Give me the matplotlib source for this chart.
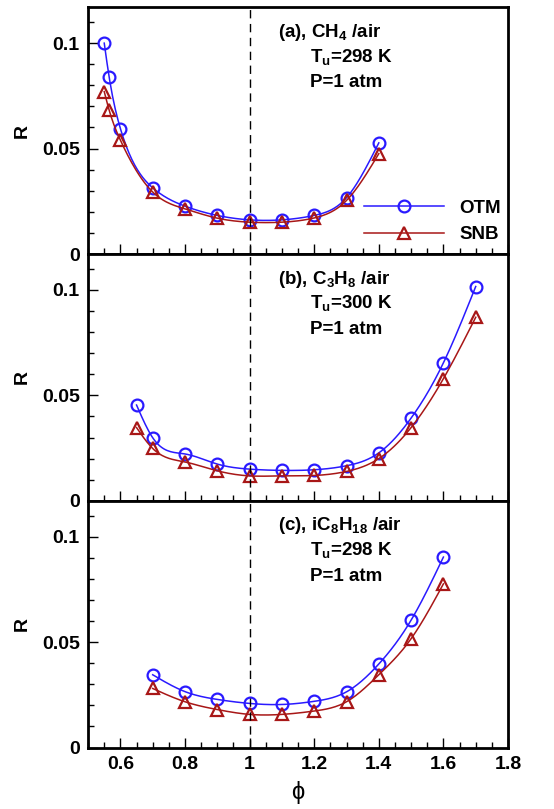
import numpy as np
import matplotlib
matplotlib.use("Agg")
import matplotlib.pyplot as plt
from matplotlib.ticker import MultipleLocator, FuncFormatter
from matplotlib.lines import Line2D

plt.rcParams['font.family'] = ['Liberation Sans', 'DejaVu Sans']
plt.rcParams['mathtext.default'] = 'regular'

# ---- data ----
phi_ch4 = [0.55, 0.565, 0.6, 0.7, 0.8, 0.9, 1.0, 1.1, 1.2, 1.3, 1.4]
otm_ch4 = [0.100, 0.0841, 0.0595, 0.0314, 0.0227, 0.0183, 0.0162, 0.0162, 0.0183, 0.0267, 0.0527]
snb_ch4 = [0.077, 0.0683, 0.0540, 0.0294, 0.0214, 0.0170, 0.0151, 0.0151, 0.0171, 0.0254, 0.0476]

phi_c3h8 = [0.65, 0.7, 0.8, 0.9, 1.0, 1.1, 1.2, 1.3, 1.4, 1.5, 1.6, 1.7]
otm_c3h8 = [0.0454, 0.0299, 0.0222, 0.0174, 0.0150, 0.0144, 0.0147, 0.0166, 0.0227, 0.0392, 0.0654, 0.1016]
snb_c3h8 = [0.0347, 0.0248, 0.0184, 0.0142, 0.0118, 0.0118, 0.0120, 0.0139, 0.0200, 0.0347, 0.0579, 0.0870]

phi_ic8 = [0.7, 0.8, 0.9, 1.0, 1.1, 1.2, 1.3, 1.4, 1.5, 1.6]
otm_ic8 = [0.0345, 0.0265, 0.0228, 0.0209, 0.0204, 0.0219, 0.0264, 0.0396, 0.0604, 0.0903]
snb_ic8 = [0.0280, 0.0217, 0.0180, 0.0157, 0.0157, 0.0173, 0.0217, 0.0345, 0.0516, 0.0776]

labels = ["(a), CH$_4$ /air", "(b), C$_3$H$_8$ /air", "(c), iC$_8$H$_{18}$ /air"]
temps = ["T$_u$=298 K", "T$_u$=300 K", "T$_u$=298 K"]

BLUE = "#2a1aff"
RED = "#a81717"


def spline(x, y, n=200):
    # natural cubic spline through the points, just for the smooth line
    x = np.asarray(x, float)
    y = np.asarray(y, float)
    k = len(x)
    h = np.diff(x)
    A = np.zeros((k, k))
    b = np.zeros(k)
    A[0, 0] = A[-1, -1] = 1
    for i in range(1, k - 1):
        A[i, i - 1] = h[i - 1]
        A[i, i] = 2 * (h[i - 1] + h[i])
        A[i, i + 1] = h[i]
        b[i] = 3 * ((y[i + 1] - y[i]) / h[i] - (y[i] - y[i - 1]) / h[i - 1])
    c = np.linalg.solve(A, b)
    xs = np.linspace(x[0], x[-1], n)
    idx = np.clip(np.searchsorted(x, xs) - 1, 0, k - 2)
    dx = xs - x[idx]
    hi = h[idx]
    bb = (y[idx + 1] - y[idx]) / hi - hi * (2 * c[idx] + c[idx + 1]) / 3
    dd = (c[idx + 1] - c[idx]) / (3 * hi)
    ys = y[idx] + bb * dx + c[idx] * dx ** 2 + dd * dx ** 3
    return xs, ys


fig, axes = plt.subplots(3, 1, figsize=(5.54, 8.09), dpi=100, sharex=True)
fig.subplots_adjust(left=0.159, right=0.917, top=0.991, bottom=0.076, hspace=0)

panels = [(phi_ch4, otm_ch4, snb_ch4), (phi_c3h8, otm_c3h8, snb_c3h8), (phi_ic8, otm_ic8, snb_ic8)]

for i, (ax, (phi, otm, snb)) in enumerate(zip(axes, panels)):
    xs, ys = spline(phi, otm)
    ax.plot(xs, ys, color=BLUE, lw=1.1)
    ax.plot(phi, otm, 'o', ms=8.5, mfc='none', mec=BLUE, mew=1.6)
    xs, ys = spline(phi, snb)
    ax.plot(xs, ys, color=RED, lw=1.1)
    ax.plot(phi, snb, '^', ms=8.5, mfc='none', mec=RED, mew=1.6)
    ax.axvline(1.0, color='black', ls=(0, (6, 4)), lw=1.0)

    ax.set_xlim(0.5, 1.8)
    ax.set_ylim(0, 0.117)
    ax.xaxis.set_major_locator(MultipleLocator(0.2))
    ax.xaxis.set_minor_locator(MultipleLocator(0.05))
    ax.yaxis.set_major_locator(MultipleLocator(0.05))
    ax.yaxis.set_minor_locator(MultipleLocator(0.01))
    ax.xaxis.set_major_formatter(FuncFormatter(lambda v, p: "%g" % round(v, 2)))
    ax.yaxis.set_major_formatter(FuncFormatter(lambda v, p: "%g" % round(v, 3)))
    ax.tick_params(which='both', direction='in', top=False, right=False, width=1.0)
    ax.tick_params(which='major', length=7, labelsize=14, pad=6)
    ax.tick_params(which='minor', length=4)
    for lab in ax.get_xticklabels() + ax.get_yticklabels():
        lab.set_fontweight('bold')
    for s in ax.spines.values():
        s.set_linewidth(2.0)
    ax.set_ylabel("R", fontsize=14, fontweight='bold', labelpad=8)

    ax.text(0.452, 0.898, labels[i], transform=ax.transAxes, fontsize=13.5,
            fontweight='bold', va='center', ha='left')
    ax.text(0.529, 0.80, temps[i], transform=ax.transAxes, fontsize=13.5,
            fontweight='bold', va='center', ha='left')
    ax.text(0.529, 0.695, "P=1 atm", transform=ax.transAxes, fontsize=13.5,
            fontweight='bold', va='center', ha='left')

handles = [Line2D([], [], color=BLUE, lw=1.1, marker='o', ms=8.5, mfc='none', mec=BLUE, mew=1.6),
           Line2D([], [], color=RED, lw=1.1, marker='^', ms=8.5, mfc='none', mec=RED, mew=1.6)]
leg = axes[0].legend(handles, ['OTM', 'SNB'], loc='lower right', bbox_to_anchor=(1.014, -0.01),
                     frameon=False, handlelength=4.25, fontsize=13.5, labelspacing=0.5,
                     handletextpad=0.8, borderaxespad=0.3)
for t in leg.get_texts():
    t.set_fontweight('bold')

axes[2].set_xlabel("\u03d5", fontsize=17, labelpad=6)

fig.savefig("out.png", dpi=100)
